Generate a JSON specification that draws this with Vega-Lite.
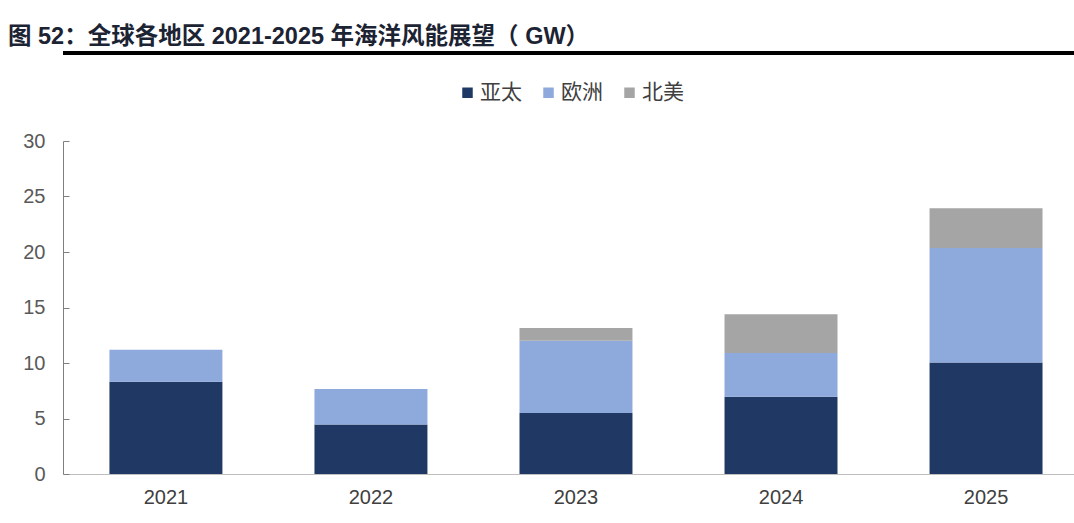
{
  "$schema": "https://vega.github.io/schema/vega-lite/v6.json",
  "autosize": {"type": "none"},
  "width": 1011,
  "height": 333,
  "padding": {"left": 63, "top": 141, "right": 0, "bottom": 49},
  "background": "white",
  "title": {
    "text": "图 52：全球各地区 2021-2025 年海洋风能展望（ GW）",
    "anchor": "start",
    "frame": "group",
    "dx": -55,
    "fontSize": 23.5,
    "fontWeight": "bold",
    "font": "Liberation Sans, Noto Sans CJK SC, sans-serif",
    "color": "#1c2333",
    "offset": 3
  },
  "data": {
    "values": [
      {"year": "2021", "region": "亚太", "order": 1, "value": 8.3},
      {"year": "2021", "region": "欧洲", "order": 2, "value": 2.9},
      {"year": "2022", "region": "亚太", "order": 1, "value": 4.45},
      {"year": "2022", "region": "欧洲", "order": 2, "value": 3.2},
      {"year": "2023", "region": "亚太", "order": 1, "value": 5.5},
      {"year": "2023", "region": "欧洲", "order": 2, "value": 6.5},
      {"year": "2023", "region": "北美", "order": 3, "value": 1.15},
      {"year": "2024", "region": "亚太", "order": 1, "value": 6.95},
      {"year": "2024", "region": "欧洲", "order": 2, "value": 3.95},
      {"year": "2024", "region": "北美", "order": 3, "value": 3.5},
      {"year": "2025", "region": "亚太", "order": 1, "value": 10.05},
      {"year": "2025", "region": "欧洲", "order": 2, "value": 10.3},
      {"year": "2025", "region": "北美", "order": 3, "value": 3.6}
    ]
  },
  "layer": [
    {
      "mark": {"type": "bar"},
      "encoding": {
        "x": {
          "field": "year",
          "type": "nominal",
          "scale": {"paddingInner": 0.449, "paddingOuter": 0.19, "align": 0.596},
          "axis": {
            "title": null,
            "labelAngle": 0,
            "ticks": false,
            "domainColor": "#bfbfbf",
            "domainWidth": 1,
            "labelFontSize": 20,
            "labelFont": "Liberation Sans, Noto Sans CJK SC, sans-serif",
            "labelColor": "#404040",
            "labelPadding": 13
          }
        },
        "y": {
          "field": "value",
          "type": "quantitative",
          "stack": "zero",
          "scale": {"domain": [0, 30], "nice": false},
          "axis": {
            "title": null,
            "values": [0, 5, 10, 15, 20, 25, 30],
            "grid": false,
            "domainColor": "#7f7f7f",
            "tickColor": "#7f7f7f",
            "tickSize": -6,
            "labelPadding": 24,
            "labelFontSize": 20,
            "labelFont": "Liberation Sans, Noto Sans CJK SC, sans-serif",
            "labelColor": "#595959"
          }
        },
        "color": {
          "field": "region",
          "type": "nominal",
          "scale": {"domain": ["亚太", "欧洲", "北美"], "range": ["#203864", "#8EA9DB", "#A5A5A5"]},
          "legend": {
            "title": null,
            "orient": "none",
            "legendX": 394,
            "legendY": -59,
            "direction": "horizontal",
            "symbolType": "square",
            "symbolSize": 110,
            "symbolStrokeWidth": 0,
            "labelFontSize": 21,
            "labelFont": "Noto Sans CJK SC, sans-serif",
            "labelColor": "#404040",
            "labelOffset": 2,
            "columnPadding": 16
          }
        },
        "order": {"field": "order", "type": "quantitative"}
      }
    },
    {
      "mark": {"type": "rule", "color": "black", "strokeWidth": 3.5, "clip": false},
      "encoding": {
        "y": {"datum": 37.95, "type": "quantitative"}
      }
    }
  ],
  "config": {
    "view": {"stroke": null}
  }
}
